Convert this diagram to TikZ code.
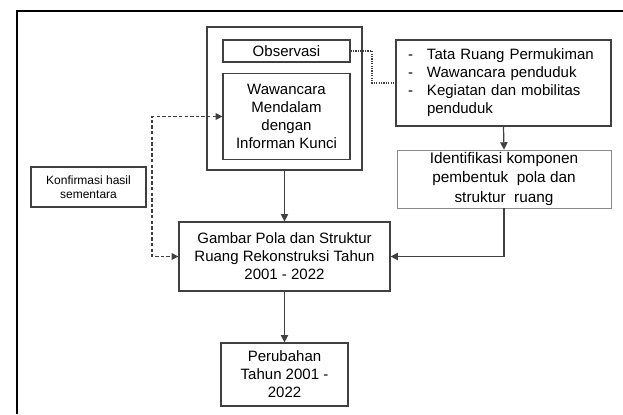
\documentclass[tikz,border=0pt]{standalone}
\usepackage{fontspec}
\setmainfont{Liberation Sans}
\usetikzlibrary{arrows.meta}
\definecolor{ln}{HTML}{404040}
\definecolor{lgt}{HTML}{8A8A8A}
\begin{document}
\begin{tikzpicture}[x=0.75pt,y=-0.75pt,
  box/.style={draw=ln, line width=0.9pt, rectangle, inner sep=0pt, align=center,
    font=\fontsize{11.25}{13.5}\selectfont},
  thinbox/.style={box, draw=lgt, line width=0.6pt},
  arr/.style={draw=ln, line width=0.9pt, -{Triangle[length=5.5pt,width=5.5pt]}},
  darr/.style={draw=ln, line width=0.8pt, dash pattern=on 2.6pt off 1.6pt,
    {Triangle[length=5pt,width=5pt]}-{Triangle[length=5pt,width=5pt]}},
  dotl/.style={draw=ln, line width=0.9pt, dash pattern=on 0.9pt off 0.9pt}]
\useasboundingbox (0,0) rectangle (623,414);
\fill[white] (0,0) rectangle (623,414);
% outer frame (partly visible)
\draw[black, line width=1.6pt] (623,11) -- (17,11) -- (17,414);
% nodes
\node[box, minimum width=116.25pt, minimum height=107.25pt] (grp) at (284.5,98.5) {};
\node[box, minimum width=95.25pt, minimum height=16.5pt] (obs) at (286.5,51) {Observasi};
\node[box, minimum width=95.25pt, minimum height=64.5pt] (waw) at (286.5,116.5)
  {Wawancara\\Mendalam\\dengan\\Informan Kunci};
\node[box, minimum width=161.25pt, minimum height=64.5pt, inner xsep=9pt, text width=143.25pt, align=left] (list) at (503.5,83)
  {\begin{tabular}{@{}p{14.25pt}@{}l@{}}
   - & Tata Ruang Permukiman\\
   - & Wawancara penduduk\\
   - & Kegiatan dan mobilitas\\
     & penduduk
  \end{tabular}};
\node[thinbox, minimum width=160.5pt, minimum height=43.5pt,
  font=\fontsize{11.5}{14.5}\selectfont] (ident) at (504,179)
  {Identifikasi komponen\\pembentuk\ \ pola dan\\struktur\ \ ruang};
\node[box, minimum width=86.25pt, minimum height=30pt, font=\fontsize{9}{10.5}\selectfont] (konf) at (88.5,187)
  {Konfirmasi hasil\\sementara};
\node[box, minimum width=158.25pt, minimum height=51.75pt] (gamb) at (284.5,256.5)
  {Gambar Pola dan Struktur\\Ruang Rekonstruksi Tahun\\2001 - 2022};
\node[box, minimum width=95.25pt, minimum height=47.25pt] (perub) at (284.5,374.5)
  {Perubahan\\Tahun 2001 -\\2022};
% connectors
\coordinate (d1) at (372,51);
\coordinate (d2) at (372,83);
\draw[dotl] (obs.east) -- (d1) -- (d2) -- (list.west);
\coordinate (k1) at (152,116.5);
\coordinate (k2) at (152,256.5);
\draw[darr] (waw.west) -- (k1) -- (k2) -- (gamb.west);
\draw[arr] (grp.south) -- (gamb.north);
\draw[arr] (list.south) -- (ident.north);
\coordinate (i1) at (504,256.5);
\draw[arr] (ident.south) -- (i1) -- (gamb.east);
\draw[arr] (gamb.south) -- (perub.north);
\end{tikzpicture}
\end{document}
